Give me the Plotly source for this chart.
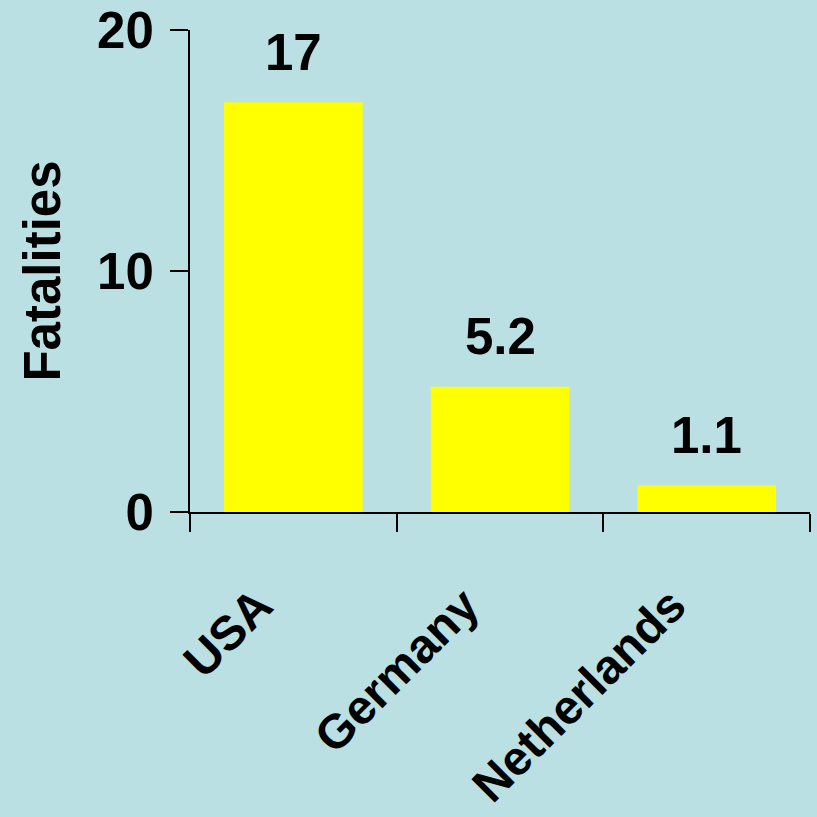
import plotly.graph_objects as go

categories = ["USA", "Germany", "Netherlands"]
values = [17, 5.2, 1.1]
value_labels = ["17", "5.2", "1.1"]
y_ticks = [0, 10, 20]

BG = "#BBE0E3"
FONT = dict(family="Liberation Sans, Arial, sans-serif", size=51, color="black", weight="bold")
XFONT = dict(FONT, size=48)

fig = go.Figure()
fig.add_trace(go.Bar(x=categories, y=values, marker=dict(color="#FFFF00", line=dict(width=0)),
                     width=0.67))

for c, v, t in zip(categories, values, value_labels):
    fig.add_annotation(x=c, y=v, text=t, showarrow=False, yanchor="middle", yshift=50,
                       font=FONT)

fig.update_layout(
    width=817, height=817,
    paper_bgcolor=BG, plot_bgcolor=BG,
    margin=dict(l=190, r=7, t=30, b=305, autoexpand=False),
    showlegend=False,
    font=FONT,
)
fig.update_xaxes(type="category", showline=True, linecolor="black", linewidth=2,
                 ticks="outside", tickson="boundaries", ticklen=18, tickwidth=2,
                 tickcolor="black", tickangle=-45, tickfont=XFONT, showgrid=False,
                 ticklabelstandoff=44, ticklabelshift=-35, automargin=False)
fig.update_yaxes(range=[0, 20], tickvals=y_ticks, showline=True, linecolor="black",
                 linewidth=2, ticks="outside", ticklen=18, tickwidth=2, tickcolor="black",
                 tickfont=FONT, showgrid=False, zeroline=False, ticklabelstandoff=6,
                 automargin=False,
                 title=dict(text="Fatalities", font=FONT, standoff=20))

fig.write_html("out.html")
